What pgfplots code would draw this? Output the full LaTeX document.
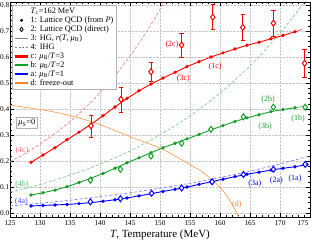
\documentclass[border=0pt]{standalone}
\usepackage{fontspec}
\setmainfont{Liberation Serif}
\usepackage{pgfplots}
\pgfplotsset{compat=1.18}
\definecolor{cred}{RGB}{255,0,0}
\definecolor{cgreen}{RGB}{20,160,40}
\definecolor{cblue}{RGB}{0,0,255}
\definecolor{corange}{RGB}{255,130,40}
\begin{document}
\begin{tikzpicture}
\begin{axis}[
  at={(0pt,0pt)}, anchor=south west,
  scale only axis, width=300pt, height=214.5pt,
  xmin=125, xmax=175, ymin=-0.015, ymax=0.81,
  xtick={125,130,135,140,145,150,155,160,165,170,175},
  xticklabels={125,130,135,140,145,150,155,160,165,170,\hbox to 0pt{\hss 175\hskip 1.5pt}},
  ytick={0,0.1,0.2,0.3,0.4,0.5,0.6,0.7,0.8},
  minor x tick num=4, minor y tick num=4,
  tick pos=both, tick align=inside,
  major tick length=4pt, minor tick length=2pt,
  every tick/.style={black, line width=0.4pt},
  axis line style={line width=0.5pt},
  grid=major, major grid style={densely dotted, gray!45, line width=0.4pt},
  /pgf/number format/assume math mode=true,
  tick label style={font=\fontsize{7.3}{8}\selectfont},
  yticklabel style={/pgf/number format/fixed, /pgf/number format/fixed zerofill, /pgf/number format/precision=1, inner sep=0.6pt},
  xlabel={\textit{T}, Temperature (MeV)},
  xlabel style={font=\fontsize{11}{12}\selectfont, yshift=2pt},
  legend cell align=left,
  legend image code/.code={\draw[mark repeat=2,mark phase=2,#1] plot coordinates {(0cm,0cm) (0.23cm,0cm) (0.46cm,0cm)};},
  legend style={at={(0.0067,0.988)}, anchor=north west, draw=gray!60, line width=0.4pt, fill=white,
    font=\fontsize{8.3}{9}\selectfont, inner sep=1.5pt, row sep=-0.6pt, nodes={inner sep=1.2pt}},
]
\addlegendimage{empty legend}\addlegendentry{\textit{T}\textsubscript{c}=162 MeV}
\addlegendimage{only marks, mark=*, mark size=1.3pt, black}\addlegendentry{1: Lattice QCD (from \textit{P})}
\addlegendimage{only marks, mark=diamond*, mark size=2.2pt, black, line width=0.8pt, mark options={fill=white}}\addlegendentry{2: Lattice QCD (direct)}
\addlegendimage{gray, line width=0.7pt}\addlegendentry{3: HG, \textit{r}(\textit{T}, \textit{μ}\textsubscript{B})}
\addlegendimage{gray, line width=0.6pt, dash pattern=on 2pt off 1.5pt}\addlegendentry{4: IHG}
\addlegendimage{cred, line width=2.6pt}\addlegendentry{c: \textit{μ}\textsubscript{B}/\textit{T}=3}
\addlegendimage{cgreen, line width=2.6pt}\addlegendentry{b: \textit{μ}\textsubscript{B}/\textit{T}=2}
\addlegendimage{cblue, line width=2.6pt}\addlegendentry{a: \textit{μ}\textsubscript{B}/\textit{T}=1}
\addlegendimage{corange, line width=2.6pt}\addlegendentry{d: freeze-out}

% ---- IHG (4), dashed
\addplot[forget plot, cred!55, line width=0.6pt, dash pattern=on 3pt off 2pt] coordinates {
(125,0.197)(127,0.222)(129,0.250)(131,0.281)(133,0.314)(135,0.352)(137,0.393)(139,0.438)(141,0.488)(143,0.542)(145,0.603)(147,0.670)(149,0.743)(150.7,0.811)};
\addplot[forget plot, cgreen!60, line width=0.6pt, dash pattern=on 3pt off 2pt] coordinates {
(125,0.080)(128,0.097)(131,0.116)(134,0.138)(137,0.161)(140,0.188)(143,0.217)(146,0.250)(149,0.287)(152,0.328)(155,0.373)(158,0.424)(161,0.480)(164,0.543)(167,0.613)(170,0.691)(173,0.778)(175,0.841)};
\addplot[forget plot, cblue!55, line width=0.6pt, dash pattern=on 3pt off 2pt] coordinates {
(125,0.027)(130,0.0374)(135,0.0493)(140,0.0627)(145,0.0778)(150,0.0949)(155,0.1142)(160,0.136)(165,0.1607)(170,0.1885)(175,0.220)};

% ---- freeze-out (d)
\addplot[forget plot, corange!75, line width=0.7pt, smooth] coordinates {
(125,0.415)(128,0.405)(130,0.398)(132,0.390)(134,0.380)(136,0.369)(138,0.355)(140,0.340)(143.3,0.310)(146,0.285)(150,0.250)(153,0.213)(156.7,0.163)(158.3,0.135)(160,0.099)(161,0.070)(162.2,0.026)(163.2,-0.02)};

% ---- HG (3), thin
\addplot[forget plot, cred, line width=0.5pt] coordinates {(172.5,0.697)(173.6,0.706)};
\addplot[forget plot, cgreen, line width=0.5pt] coordinates {(172.5,0.405)(174.5,0.412)};

% ---- Lattice from P (1)
\addplot[forget plot, cred, line width=0.9pt, mark=*, mark size=1.2pt] coordinates {
(128.5,0.195)(130.5,0.223)(132.5,0.251)(134.5,0.282)(136.5,0.311)(138.5,0.341)(140.5,0.374)(142.5,0.408)(144.5,0.441)(146.5,0.470)(148.5,0.496)(150.5,0.519)(152.5,0.541)(154.5,0.563)(156.5,0.582)(158.5,0.600)(160.5,0.616)(162.5,0.631)(164.5,0.645)(166.5,0.657)(168.5,0.670)(170.5,0.683)(172.5,0.697)};
\addplot[forget plot, cgreen, line width=0.9pt, mark=*, mark size=1.2pt] coordinates {
(128.5,0.069)(130.5,0.078)(132.5,0.088)(134.5,0.101)(136.5,0.117)(138.5,0.134)(140.5,0.152)(142.5,0.172)(144.5,0.193)(146.5,0.212)(148.5,0.232)(150.5,0.251)(152.5,0.268)(154.5,0.285)(156.5,0.302)(158.5,0.320)(160.5,0.336)(162.5,0.352)(164.5,0.366)(166.5,0.378)(168.5,0.390)(170.5,0.398)(172.5,0.405)};
\addplot[forget plot, cblue, line width=0.9pt, mark=*, mark size=1.2pt] coordinates {
(128.5,0.027)(130.5,0.029)(132.5,0.031)(134.5,0.033)(136.5,0.036)(138.5,0.040)(140.5,0.045)(142.5,0.051)(144.5,0.058)(146.5,0.066)(148.5,0.074)(150.5,0.083)(152.5,0.091)(154.5,0.100)(156.5,0.110)(158.5,0.120)(160.5,0.130)(162.5,0.140)(164.5,0.149)(166.5,0.157)(168.5,0.165)(170.5,0.172)(172.5,0.178)(174.5,0.186)};

% ---- Lattice direct (2)
\addplot[forget plot, color=cred, only marks, mark=diamond*, mark size=3pt, line width=1pt, mark options={fill=white, draw=cred},
  error bars/.cd, y dir=both, y explicit,
  error bar style={draw=cred, color=cred, line width=0.8pt},
  error mark options={draw=cred, color=cred, rotate=90, mark size=2.2pt, line width=0.6pt}]
  coordinates {
(138.5,0.335) +- (0,0.042)
(143.5,0.437) +- (0,0.048)
(148.5,0.543) +- (0,0.035)
(153.6,0.646) +- (0,0.046)
(158.8,0.753) +- (0,0.048)
(163.8,0.714) +- (0,0.050)
(168.9,0.730) +- (0,0.051)
(174.1,0.576) +- (0,0.053)};
\addplot[forget plot, cgreen, only marks, mark=diamond*, mark size=3pt, line width=1pt, mark options={fill=white}] coordinates {
(138.4,0.126)(143.4,0.168)(148.5,0.219)(153.6,0.268)(158.5,0.322)(163.9,0.370)(168.9,0.407)(174.2,0.407)};
\addplot[forget plot, cblue, only marks, mark=diamond*, mark size=3pt, line width=1pt, mark options={fill=white}] coordinates {
(138.4,0.043)(143.4,0.055)(148.6,0.076)(153.6,0.096)(158.7,0.120)(163.9,0.148)(168.9,0.168)(174.2,0.187)};

% ---- labels
\begin{scope}[every node/.style={font=\fontsize{8}{9}\selectfont, inner sep=0.5pt}]
\node[text=cred!60] at (axis cs:127.0,0.242) {(4c)};
\node[text=cgreen!70] at (axis cs:127.0,0.108) {(4b)};
\node[text=cblue!70] at (axis cs:126.9,0.045) {(4a)};
\node[text=cred] at (axis cs:152.0,0.646) {(2c)};
\node[text=cred] at (axis cs:153.9,0.518) {(3c)};
\draw[cred!60, line width=0.3pt] (axis cs:153.3,0.530) -- (axis cs:152.6,0.542);
\node[text=cred] at (axis cs:159.2,0.565) {(1c)};
\node[text=cgreen] at (axis cs:168.0,0.435) {(2b)};
\node[text=cgreen] at (axis cs:173.0,0.362) {(1b)};
\node[text=cgreen] at (axis cs:167.5,0.333) {(3b)};
\node[text=cblue] at (axis cs:165.8,0.115) {(3a)};
\draw[cblue!60, line width=0.3pt] (axis cs:165.2,0.130) -- (axis cs:165.0,0.150);
\node[text=cblue] at (axis cs:169.4,0.124) {(2a)};
\node[text=cblue] at (axis cs:172.5,0.133) {(1a)};
\node[text=corange] at (axis cs:162.8,0.031) {(d)};
\node[draw=gray!60, line width=0.4pt, fill=white, inner sep=2pt, font=\fontsize{8.3}{9}\selectfont] at (axis cs:127.8,0.346) {\textit{μ}\textsubscript{S}=0};
\end{scope}
\end{axis}
\pgfresetboundingbox
\useasboundingbox (-10pt,-23.1pt) rectangle (302pt,216.9pt);
\end{tikzpicture}
\end{document}
